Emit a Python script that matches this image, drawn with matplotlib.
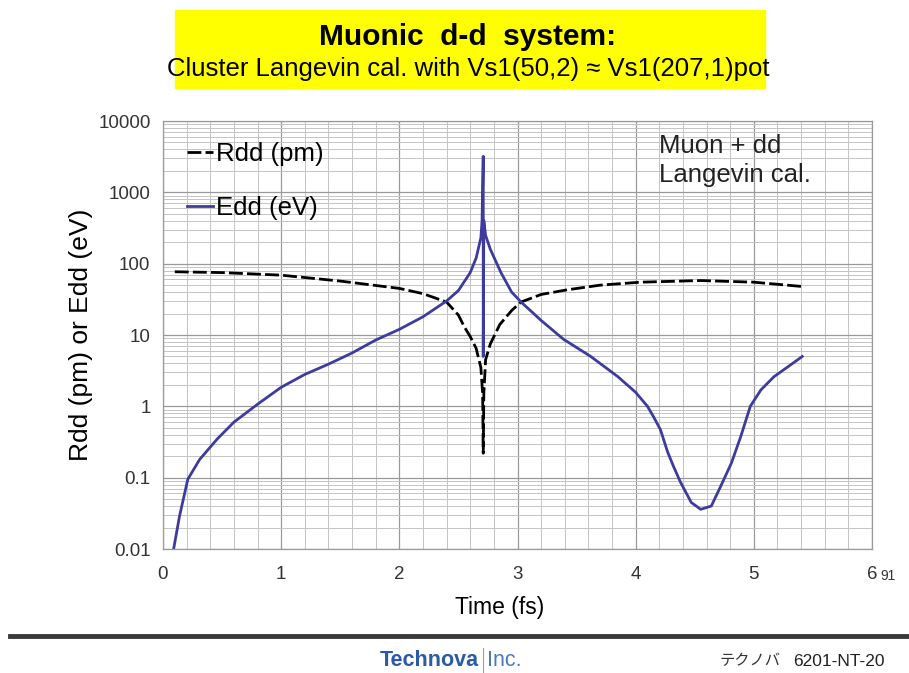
import matplotlib
matplotlib.use("Agg")
import matplotlib.pyplot as plt
from matplotlib.lines import Line2D
from matplotlib.patches import Rectangle
from matplotlib.ticker import FixedLocator, NullFormatter

plt.rcParams['font.family'] = ['Liberation Sans', 'DejaVu Sans']

# Edd (eV), blue line
edd_t = [0.09, 0.14, 0.21, 0.31, 0.46, 0.60, 0.80, 1.00, 1.20, 1.40, 1.60, 1.80,
         2.00, 2.20, 2.40, 2.50, 2.60, 2.65, 2.69, 2.70, 2.71, 2.71, 2.715, 2.73,
         2.77, 2.86, 2.95, 3.03, 3.20, 3.39, 3.62, 3.85, 4.00, 4.10, 4.15, 4.21,
         4.27, 4.32, 4.38, 4.47, 4.55, 4.64, 4.72, 4.81, 4.89, 4.97, 5.06, 5.17,
         5.29, 5.41]
edd_v = [0.01, 0.029, 0.095, 0.18, 0.35, 0.6, 1.07, 1.85, 2.8, 3.9, 5.6, 8.5,
         12, 18, 30, 42, 75, 120, 230, 400, 3200, 5, 400, 250,
         159, 75, 40, 29, 16, 8.7, 5.0, 2.6, 1.57, 1.0, 0.72, 0.47,
         0.23, 0.144, 0.086, 0.045, 0.036, 0.04, 0.076, 0.16, 0.38, 1.0, 1.7, 2.6,
         3.6, 5.0]

# Rdd (pm), black dashed line
rdd_t = [0.10, 0.50, 1.00, 1.50, 2.00, 2.20, 2.40, 2.50, 2.55, 2.60, 2.65, 2.69,
         2.705, 2.71, 2.715, 2.73, 2.77, 2.85, 2.95, 3.03, 3.20, 3.42, 3.70, 4.04,
         4.55, 5.00, 5.40]
rdd_v = [77, 75, 69, 57, 45, 38, 29, 19, 13, 9.5, 6.5, 3.5,
         1.5, 0.22, 1.5, 4.5, 7.5, 14, 22, 29, 37, 43, 50, 55,
         58, 55, 48]

y_ticks = [0.01, 0.1, 1, 10, 100, 1000, 10000]
y_tick_labels = ['0.01', '0.1', '1', '10', '100', '1000', '10000']
x_ticks = [0, 1, 2, 3, 4, 5, 6]

fig = plt.figure(figsize=(9.09, 6.73), dpi=100)

# yellow title box
fig.add_artist(Rectangle((175 / 909, 1 - 88 / 673), 590 / 909, 78 / 673,
                         transform=fig.transFigure, color='#ffff00', zorder=0))
fig.text(0.514, 1 - 37 / 673, 'Muonic  d-d  system:', ha='center', va='center',
         fontsize=21.5, fontweight='bold')
fig.text(0.515, 1 - 69 / 673, 'Cluster Langevin cal. with Vs1(50,2) \u2248 Vs1(207,1)pot',
         ha='center', va='center', fontsize=18.5)

ax = fig.add_axes([163 / 909, 1 - 549 / 673, 709 / 909, 428 / 673])
ax.set_yscale('log')
ax.set_xlim(0, 6)
ax.set_ylim(0.01, 10000)

# grid: minor every 0.2 in x, 2..9 in each decade
minor_y = [m * 10.0 ** e for e in range(-2, 4) for m in range(2, 10)]
ax.yaxis.set_major_locator(FixedLocator(y_ticks))
ax.yaxis.set_minor_locator(FixedLocator(minor_y))
ax.yaxis.set_minor_formatter(NullFormatter())
ax.set_yticklabels(y_tick_labels)
ax.set_xticks(x_ticks)
ax.set_xticks([i * 0.2 for i in range(31)], minor=True)
ax.grid(which='major', color='#9a9a9a', lw=0.9)
ax.grid(which='minor', color='#c4c4c4', lw=0.7)
ax.tick_params(which='both', length=0, labelsize=13.5, colors='#333333', pad=9)
ax.tick_params(axis='x', pad=12)
for s in ax.spines.values():
    s.set_color('#9a9a9a')
    s.set_linewidth(0.9)
ax.set_axisbelow(True)

ax.plot(rdd_t, rdd_v, color='black', ls=(0, (5, 1.5)), lw=2, label='Rdd (pm)')
ax.plot(edd_t, edd_v, color='#3d3c9e', lw=2, label='Edd (eV)')

ax.set_xlabel('Time (fs)', fontsize=16.5)
ax.xaxis.set_label_coords(0.475, -0.11)
ax.set_ylabel('Rdd (pm) or Edd (eV)', fontsize=19, labelpad=4)

leg = ax.legend(loc='upper left', bbox_to_anchor=(0.02, 0.975), frameon=False,
                fontsize=18.5, handlelength=1.0, handletextpad=0.1,
                labelspacing=1.15, borderaxespad=0)

ax.text(0.70, 0.97, 'Muon + dd\nLangevin cal.', transform=ax.transAxes,
        fontsize=18.5, va='top', ha='left', linespacing=1.25, color='#222222')

fig.text(880 / 909, 1 - 576 / 673, '91', fontsize=10, ha='left', va='center', color='#333333')

# footer
fig.add_artist(Line2D([10 / 909, 1.0], [1 - 636 / 673] * 2, transform=fig.transFigure,
                      color='#3a3a3a', lw=3.5))
fig.text(479 / 909, 1 - 661 / 673, 'Technova', fontsize=15.5, fontweight='bold',
         color='#2a5aa8', ha='right', va='center')
fig.add_artist(Line2D([483 / 909] * 2, [1 - 672 / 673, 1 - 648 / 673],
                      transform=fig.transFigure, color='#8aa0c8', lw=0.8))
fig.text(487 / 909, 1 - 661 / 673, 'Inc.', fontsize=15.5, color='#4a78c0',
         ha='left', va='center')
fig.text(720 / 909, 1 - 661 / 673, 'テクノバ', fontsize=11,
         family=['Noto Sans CJK JP', 'DejaVu Sans'], color='#333333', va='center')
fig.text(793 / 909, 1 - 661 / 673, '6201-NT-20', fontsize=12.5, color='#222222',
         va='center')

fig.savefig('out.png', dpi=100)
